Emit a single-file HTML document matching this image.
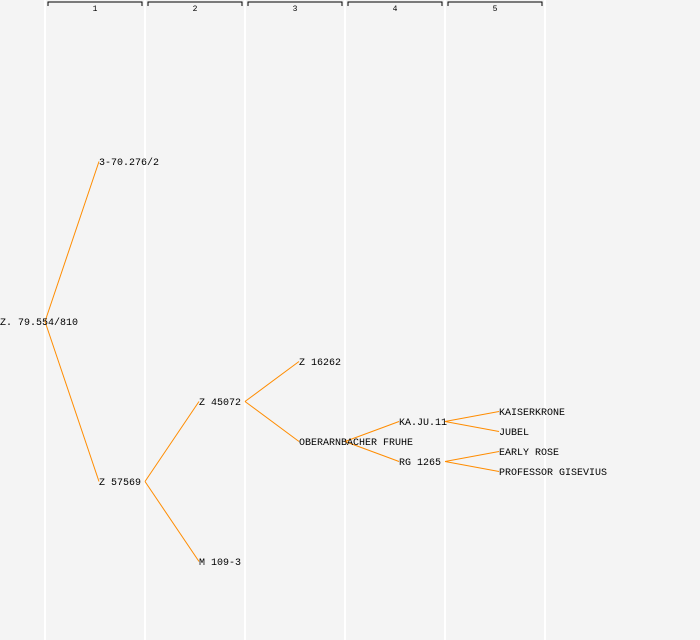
<!DOCTYPE html>
<html><head><meta charset="utf-8"><style>
html,body{margin:0;padding:0;background:#f4f4f4}
svg{display:block}
text{font-family:"Liberation Mono","DejaVu Sans Mono",monospace;font-size:10px;fill:#000}
</style></head><body>
<svg width="700" height="640">
<rect width="700" height="640" fill="#f4f4f4"/>
<g id="cols"></g>
<g id="links"></g>
<g id="nodes"></g>
</svg>
<script>
const columnLabels = ["1","2","3","4","5"];
const nodeNames = ["Z. 79.554/810","3-70.276/2","Z 57569","Z 45072","M 109-3","Z 16262","OBERARNBACHER FRUHE","KA.JU.11","RG 1265","KAISERKRONE","JUBEL","EARLY ROSE","PROFESSOR GISEVIUS"];
const nodeParents = [-1,0,0,2,2,3,3,6,6,7,7,8,8];
const nodeRows = [16,8,24,20,28,18,22,21,23,20.5,21.5,22.5,23.5];

const NS="http://www.w3.org/2000/svg";
function mk(t,a,p){const e=document.createElementNS(NS,t);for(const k in a)e.setAttribute(k,a[k]);p.appendChild(e);return e;}
const colX = d => 45 + 100*d;
const inX = d => d===0 ? 0 : 99 + 100*(d-1);
const yOf = r => r*20 + 1.5;
const depth = i => nodeParents[i] < 0 ? 0 : depth(nodeParents[i]) + 1;

const cols=document.getElementById('cols');
for(let c=0;c<=columnLabels.length;c++){
  const l=mk('line',{x1:colX(c),x2:colX(c),y1:0,y2:640,stroke:'#ffffff','stroke-width':2},cols);
  
  
}
columnLabels.forEach((lab,i)=>{
  const x0=colX(i)+3,x1=colX(i+1)-3;
  const p=mk('path',{d:`M${x0},6V2H${x1}V6`,fill:'none',stroke:'#000','stroke-width':1},cols);
  
  
  const t=mk('text',{x:(x0+x1)/2,y:11,'text-anchor':'middle'},cols);
  t.style.fontSize='8px';
  t.textContent=lab;
  
  
});

const links=document.getElementById('links'),nodes=document.getElementById('nodes');
nodeNames.forEach((n,i)=>{
  const d=depth(i),p=nodeParents[i];
  if(p>=0){
    const l=mk('line',{x1:colX(d-1),y1:yOf(nodeRows[p]),x2:inX(d),y2:yOf(nodeRows[i]),stroke:'#ff8c00','stroke-width':1},links);
    
    
  }
  const t=mk('text',{x:inX(d),y:yOf(nodeRows[i])+3.5},nodes);
  t.textContent=n;
  
  
});
</script>
</body></html>
